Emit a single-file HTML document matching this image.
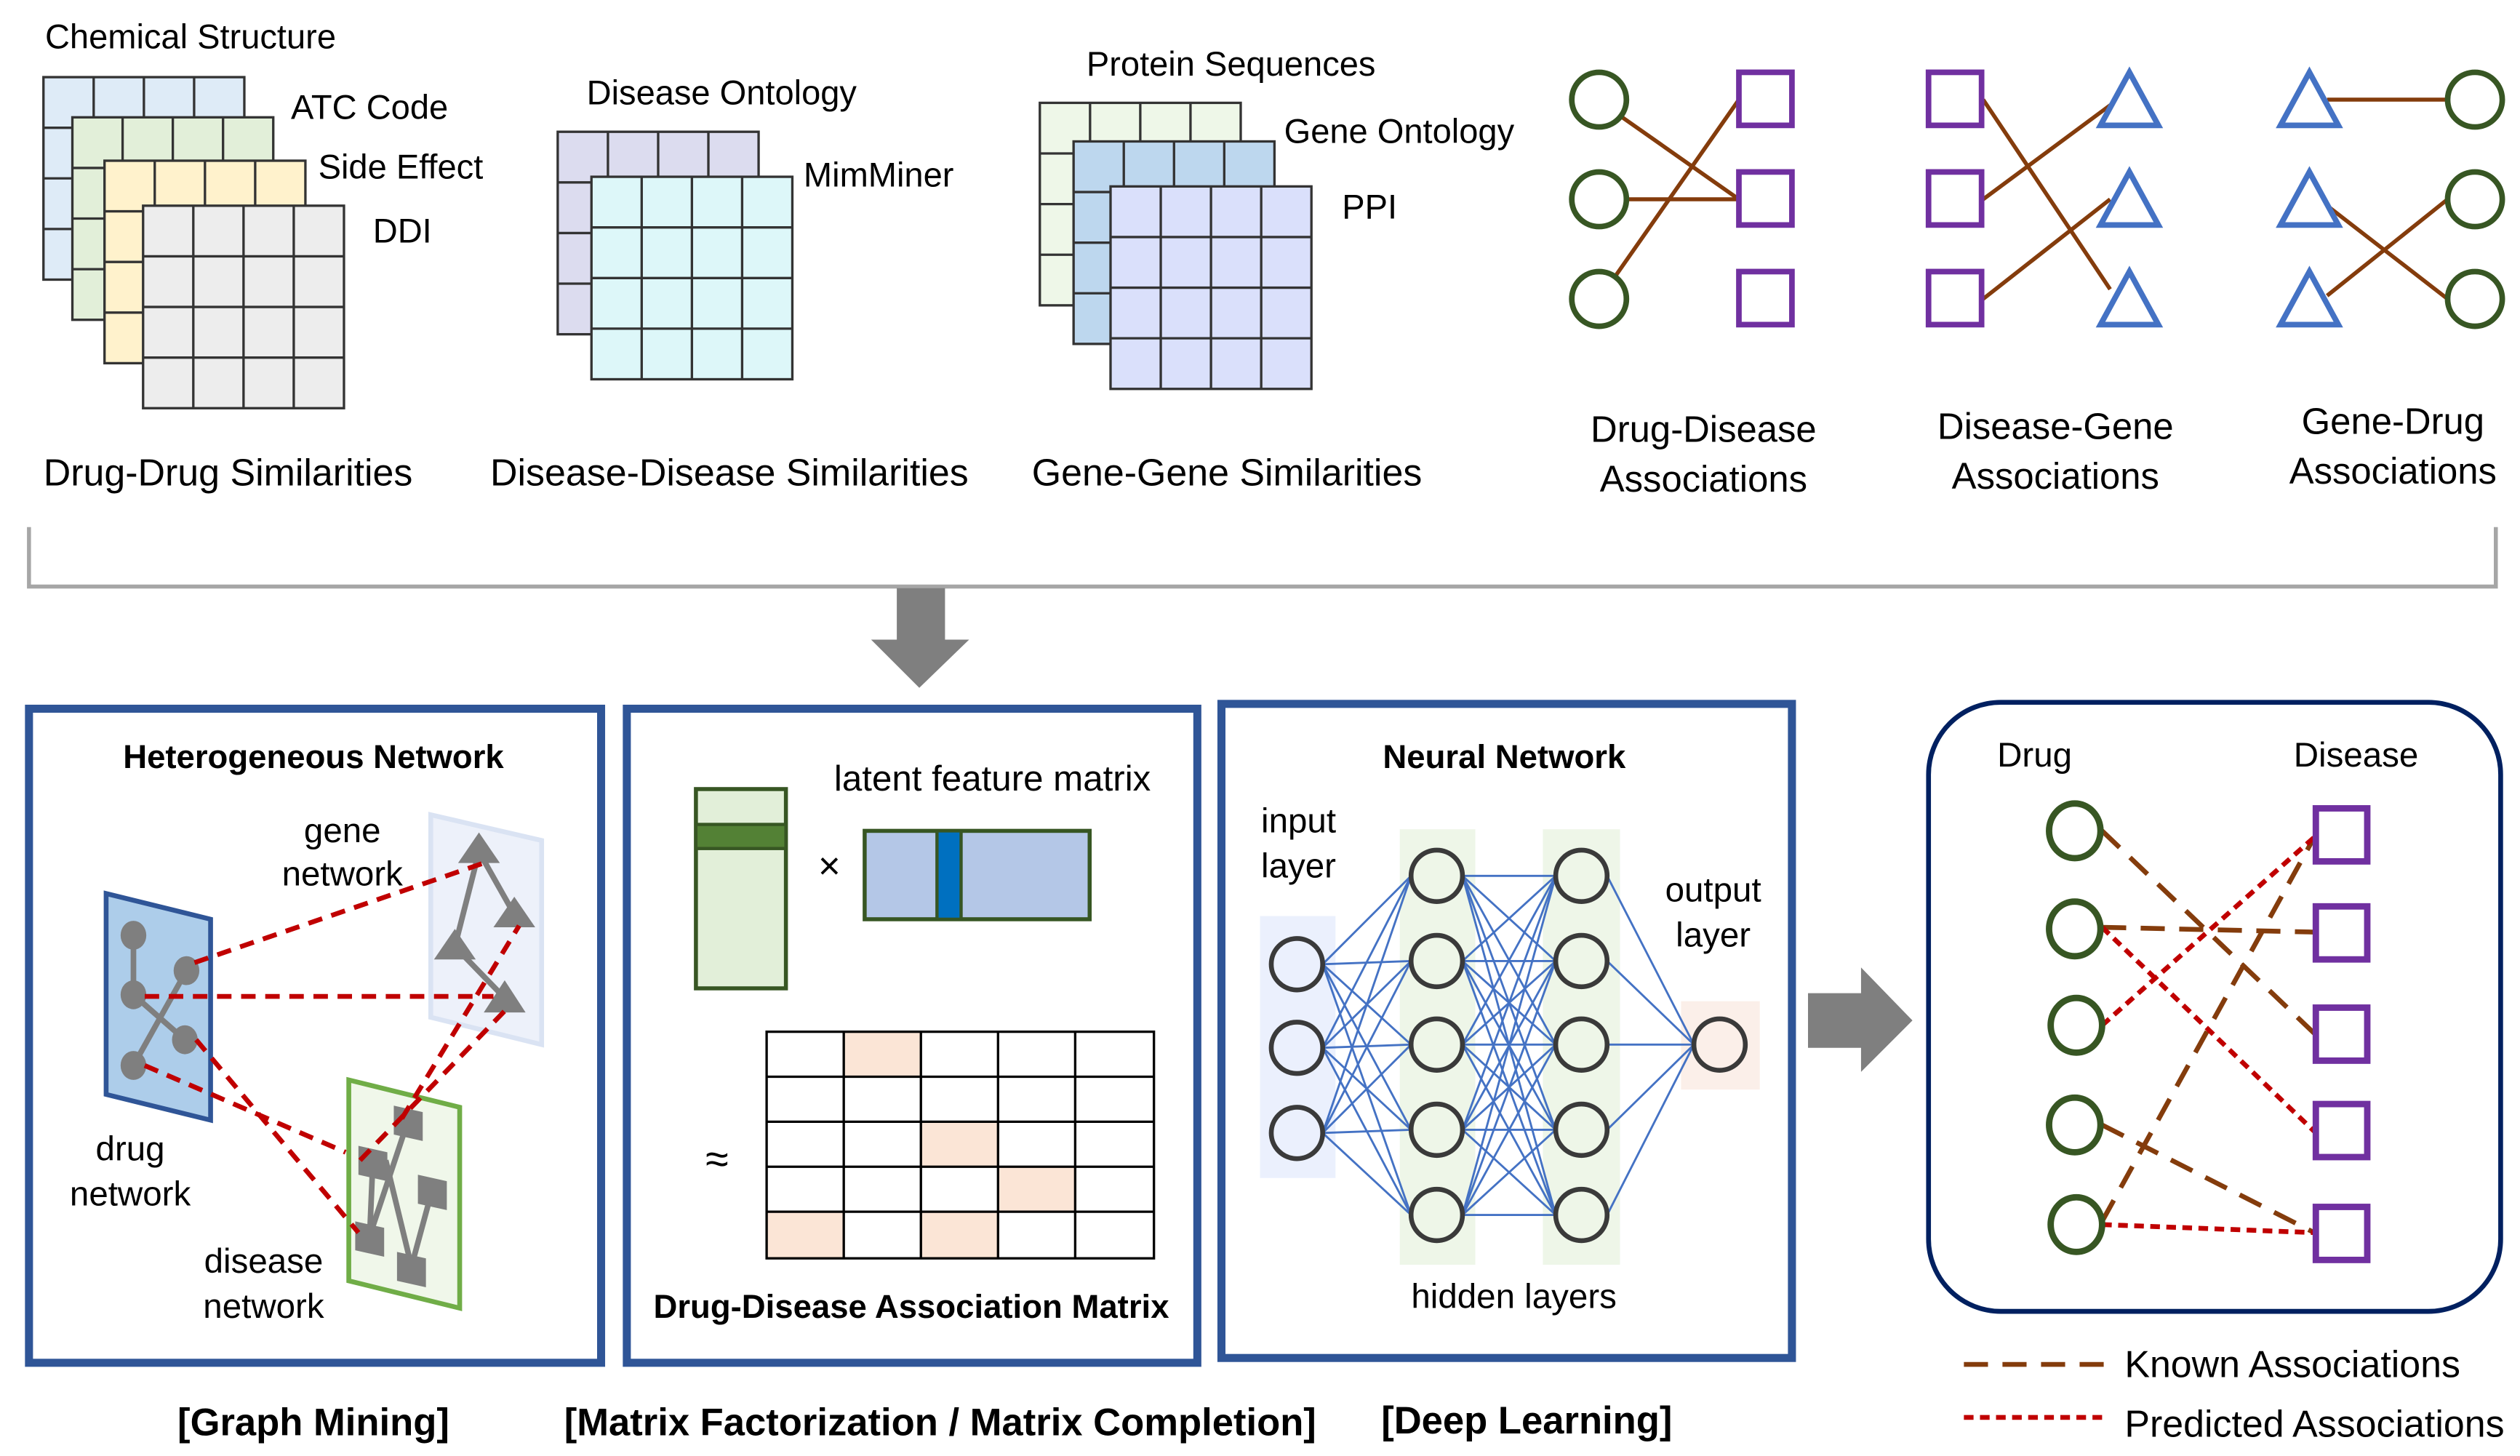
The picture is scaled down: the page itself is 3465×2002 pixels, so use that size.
<!DOCTYPE html>
<html><head><meta charset="utf-8"><style>
html,body{margin:0;padding:0;background:#fff;}
svg{display:block;}
text{font-family:"Liberation Sans",sans-serif;fill:#000;}
</style></head><body>
<svg id="s" width="3465" height="2002" viewBox="0 0 1568 906" xmlns="http://www.w3.org/2000/svg">
<rect width="1568" height="906" fill="#fff"/>
<g id="grids"></g>
<!-- top labels -->
<g font-size="21.3">
<text x="28" y="30">Chemical Structure</text>
<text x="181" y="74">ATC Code</text>
<text x="198" y="111">Side Effect</text>
<text x="232" y="151">DDI</text>
<text x="365" y="65">Disease Ontology</text>
<text x="500" y="116">MimMiner</text>
<text x="676" y="47">Protein Sequences</text>
<text x="799" y="89">Gene Ontology</text>
<text x="835" y="136">PPI</text>
</g>
<g font-size="23.5">
<text x="27" y="302">Drug-Drug Similarities</text>
<text x="305" y="302">Disease-Disease Similarities</text>
<text x="642" y="302">Gene-Gene Similarities</text>
</g>
<g font-size="23" text-anchor="middle">
<text x="1060" y="275">Drug-Disease</text>
<text x="1060" y="306">Associations</text>
<text x="1279" y="273">Disease-Gene</text>
<text x="1279" y="304">Associations</text>
<text x="1489" y="270">Gene-Drug</text>
<text x="1489" y="301">Associations</text>
</g>
<!-- bipartite 1 -->
<g stroke="#843c0c" stroke-width="2.5">
<line x1="1008" y1="72" x2="1082" y2="124"/>
<line x1="1012" y1="124" x2="1082" y2="124"/>
<line x1="1005" y1="172" x2="1082" y2="62"/>
<line x1="1234" y1="62" x2="1313" y2="180"/>
<line x1="1234" y1="124" x2="1315" y2="64"/>
<line x1="1234" y1="186" x2="1313" y2="124"/>
<line x1="1448" y1="62" x2="1523" y2="62"/>
<line x1="1448" y1="128" x2="1523" y2="186"/>
<line x1="1448" y1="184" x2="1523" y2="124"/>
</g>
<g fill="#fff" stroke="#375623" stroke-width="3.5">
<circle cx="995" cy="62" r="17"/><circle cx="995" cy="124" r="17"/><circle cx="995" cy="186" r="17"/>
<circle cx="1540" cy="62" r="17"/><circle cx="1540" cy="124" r="17"/><circle cx="1540" cy="186" r="17"/>
</g>
<g fill="#fff" stroke="#7030a0" stroke-width="3.5">
<rect x="1082" y="45" width="33" height="33"/><rect x="1082" y="107" width="33" height="33"/><rect x="1082" y="169" width="33" height="33"/>
<rect x="1200" y="45" width="33" height="33"/><rect x="1200" y="107" width="33" height="33"/><rect x="1200" y="169" width="33" height="33"/>
</g>
<g fill="#fff" stroke="#4472c4" stroke-width="3.5">
<polygon points="1325,45 1307,78 1343,78"/><polygon points="1325,107 1307,140 1343,140"/><polygon points="1325,169 1307,202 1343,202"/>
<polygon points="1437,45 1419,78 1455,78"/><polygon points="1437,107 1419,140 1455,140"/><polygon points="1437,169 1419,202 1455,202"/>
</g>
<!-- bracket & arrow -->
<polyline points="18,328 18,365 1553,365 1553,328" fill="none" stroke="#a6a6a6" stroke-width="2.5"/>
<polygon points="558,366 588,366 588,398 603,398 572,428 542,398 558,398" fill="#7f7f7f"/>
<polygon points="1125,618 1158,618 1158,602 1190,635 1158,667 1158,652 1125,652" fill="#7f7f7f"/>
<!-- panels -->
<g fill="none" stroke="#2f5597" stroke-width="5">
<rect x="18" y="441" width="356" height="407"/>
<rect x="390" y="441" width="355" height="407"/>
<rect x="760" y="438" width="355" height="407"/>
</g>
<rect x="1200" y="437" width="356" height="379" rx="45" fill="none" stroke="#002060" stroke-width="3"/>
<g font-size="20.6" font-weight="bold" text-anchor="middle">
<text x="195" y="478">Heterogeneous Network</text>
<text x="936" y="478">Neural Network</text>
<text x="567" y="820">Drug-Disease Association Matrix</text>
</g>
<g font-size="23.8" font-weight="bold" text-anchor="middle">
<text x="195" y="893">[Graph Mining]</text>
<text x="585" y="893">[Matrix Factorization / Matrix Completion]</text>
<text x="950" y="892">[Deep Learning]</text>
</g>
<!-- panel1 -->
<polygon points="268,507 337,523 337,650 268,633" fill="#edf1fa" stroke="#dae3f3" stroke-width="3"/>
<polygon points="66,556 131,572 131,697 66,681" fill="#adcdea" stroke="#2f5597" stroke-width="3"/>
<polygon points="217,672 286,689 286,814 217,797" fill="#f0f7ea" stroke="#70ad47" stroke-width="3"/>
<g stroke="#7f7f7f" stroke-width="3.5">
<line x1="83" y1="582" x2="83" y2="619"/><line x1="83" y1="619" x2="115" y2="647"/><line x1="116" y1="604" x2="83" y2="663"/>
<line x1="298" y1="530" x2="283" y2="589"/><line x1="298" y1="530" x2="320" y2="569"/><line x1="283" y1="589" x2="314" y2="621"/>
<line x1="254" y1="697" x2="230" y2="769"/><line x1="232" y1="722" x2="230" y2="769"/><line x1="240" y1="722" x2="256" y2="788"/><line x1="269" y1="740" x2="256" y2="788"/>
</g>
<g fill="#7f7f7f">
<ellipse cx="83" cy="582" rx="8" ry="9"/><ellipse cx="116" cy="604" rx="8" ry="9"/><ellipse cx="83" cy="619" rx="8" ry="9"/><ellipse cx="115" cy="647" rx="8" ry="9"/><ellipse cx="83" cy="663" rx="8" ry="9"/>
<polygon points="298,518 285,537 311,537"/><polygon points="320,558 307,577 333,577"/><polygon points="283,578 270,597 296,597"/><polygon points="314,610 301,630 327,630"/>
<polygon points="245,688 263,692 263,710 245,706"/><polygon points="223,713 241,717 241,735 223,731"/><polygon points="260,731 278,735 278,753 260,749"/><polygon points="221,760 239,764 239,782 221,778"/><polygon points="247,779 265,783 265,801 247,797"/>
</g>
<g stroke="#c00000" stroke-width="3" stroke-dasharray="9,6" fill="none">
<line x1="121" y1="599" x2="301" y2="537"/>
<line x1="90" y1="620" x2="307" y2="620"/>
<line x1="122" y1="647" x2="223" y2="767"/>
<line x1="90" y1="663" x2="215" y2="717"/>
<line x1="250" y1="696" x2="323" y2="576"/>
<line x1="224" y1="722" x2="316" y2="627"/>
</g>
<g font-size="21.5" text-anchor="middle">
<text x="213" y="524">gene</text><text x="213" y="551">network</text>
<text x="81" y="722">drug</text><text x="81" y="750">network</text>
<text x="164" y="792">disease</text><text x="164" y="820">network</text>
</g>
<!-- panel2 -->
<rect x="433" y="491" width="56" height="124" fill="#e2efd9" stroke="#375623" stroke-width="2.5"/>
<rect x="433" y="513" width="56" height="15" fill="#538135" stroke="#375623" stroke-width="2"/>
<rect x="538" y="517" width="140" height="55" fill="#b4c7e7" stroke="#375623" stroke-width="2.5"/>
<rect x="583" y="517" width="15" height="55" fill="#0070c0" stroke="#375623" stroke-width="2"/>
<text x="509" y="547" font-size="24">×</text>
<text x="519" y="492" font-size="22.3">latent feature matrix</text>
<text x="439" y="730" font-size="26">≈</text>
<g fill="#fbe5d6">
<rect x="525" y="642" width="48" height="28"/><rect x="573" y="698" width="48" height="28"/><rect x="621" y="726" width="48" height="28"/><rect x="477" y="754" width="48" height="29"/><rect x="573" y="754" width="48" height="29"/>
</g>
<g stroke="#000" stroke-width="1.5" fill="none">
<rect x="477" y="642" width="241" height="141"/>
<line x1="525" y1="642" x2="525" y2="783"/><line x1="573" y1="642" x2="573" y2="783"/><line x1="621" y1="642" x2="621" y2="783"/><line x1="669" y1="642" x2="669" y2="783"/>
<line x1="477" y1="670" x2="718" y2="670"/><line x1="477" y1="698" x2="718" y2="698"/><line x1="477" y1="726" x2="718" y2="726"/><line x1="477" y1="754" x2="718" y2="754"/>
</g>
<!-- panel3 -->
<rect x="784" y="570" width="47" height="163" fill="#ebf0fd"/>
<rect x="871" y="516" width="47" height="271" fill="#eef6e8"/>
<rect x="960" y="516" width="48" height="271" fill="#eef6e8"/>
<rect x="1046" y="623" width="49" height="55" fill="#fbefe9"/>
<g id="nn" stroke="#4472c4" stroke-width="1.3"></g>
<g id="nodes" fill="none" stroke="#3a3a3a" stroke-width="3"></g>
<g font-size="21.5" text-anchor="middle">
<text x="808" y="518">input</text><text x="808" y="546">layer</text>
<text x="1066" y="561">output</text><text x="1066" y="589">layer</text>
<text x="942" y="814">hidden layers</text>
</g>
<!-- panel4 -->
<text x="1266" y="477" font-size="21.5" text-anchor="middle">Drug</text>
<text x="1466" y="477" font-size="21.5" text-anchor="middle">Disease</text>
<g stroke="#843c0c" stroke-width="3" stroke-dasharray="15,9" fill="none">
<line x1="1308" y1="517" x2="1440" y2="643"/>
<line x1="1308" y1="577" x2="1440" y2="580"/>
<line x1="1308" y1="700" x2="1440" y2="767"/>
<line x1="1308" y1="760" x2="1440" y2="521"/>
</g>
<g stroke="#c00000" stroke-width="3" stroke-dasharray="6,4" fill="none">
<line x1="1308" y1="577" x2="1440" y2="704"/>
<line x1="1308" y1="638" x2="1440" y2="521"/>
<line x1="1308" y1="762" x2="1440" y2="767"/>
</g>
<g fill="#fff" stroke="#375623" stroke-width="4">
<ellipse cx="1291" cy="517" rx="16" ry="17"/><ellipse cx="1291" cy="578" rx="16" ry="17"/><ellipse cx="1292" cy="638" rx="16" ry="17"/><ellipse cx="1291" cy="700" rx="16" ry="17"/><ellipse cx="1292" cy="762" rx="16" ry="17"/>
</g>
<g fill="#fff" stroke="#7030a0" stroke-width="4">
<rect x="1441" y="503" width="32" height="33"/><rect x="1441" y="564" width="32" height="33"/><rect x="1441" y="627" width="32" height="33"/><rect x="1441" y="687" width="32" height="33"/><rect x="1441" y="751" width="32" height="33"/>
</g>
<line x1="1222" y1="849" x2="1310" y2="849" stroke="#843c0c" stroke-width="3" stroke-dasharray="15,9"/>
<line x1="1222" y1="882" x2="1310" y2="882" stroke="#c00000" stroke-width="3" stroke-dasharray="6,4"/>
<text x="1322" y="857" font-size="23.5">Known Associations</text>
<text x="1322" y="894" font-size="23.5">Predicted Associations</text>
</svg>
<script>
var NS="http://www.w3.org/2000/svg";
function el(p,t,a){var e=document.createElementNS(NS,t);for(var k in a)e.setAttribute(k,a[k]);p.appendChild(e);return e;}
var G=document.getElementById("grids");
function grid(x,y,fill){var w=125,h=126;el(G,"rect",{x:x,y:y,width:w,height:h,fill:fill,stroke:"#333","stroke-width":1.5});
for(var i=1;i<4;i++){el(G,"line",{x1:x+w*i/4,y1:y,x2:x+w*i/4,y2:y+h,stroke:"#333","stroke-width":1.5});el(G,"line",{x1:x,y1:y+h*i/4,x2:x+w,y2:y+h*i/4,stroke:"#333","stroke-width":1.5});}}
grid(27,48,"#deebf7");grid(45,73,"#e2efd9");grid(65,100,"#fff2cc");grid(89,128,"#ededed");
grid(347,82,"#dcdcef");grid(368,110,"#ddf7f9");
grid(647,64,"#eef7e8");grid(668,88,"#bdd7ee");grid(691,116,"#dae0fb");
var L=[[[807,600],[807,652],[807,705]],[],[],[[1070,650]]];
[545,598,650,703,756].forEach(function(y){L[1].push([894,y]);L[2].push([984,y]);});
var N=document.getElementById("nn"),R=16;
for(var l=0;l<3;l++)L[l].forEach(function(a){L[l+1].forEach(function(b){el(N,"line",{x1:a[0]+R,y1:a[1],x2:b[0]-R,y2:b[1]});});});
var D=document.getElementById("nodes");
L.forEach(function(ly,i){ly.forEach(function(p){el(D,"circle",{cx:p[0],cy:p[1],r:R,fill:i==0?"#ebf0fd":(i==3?"#fbefe9":"#eef6e8")});});});
</script>
</body></html>
